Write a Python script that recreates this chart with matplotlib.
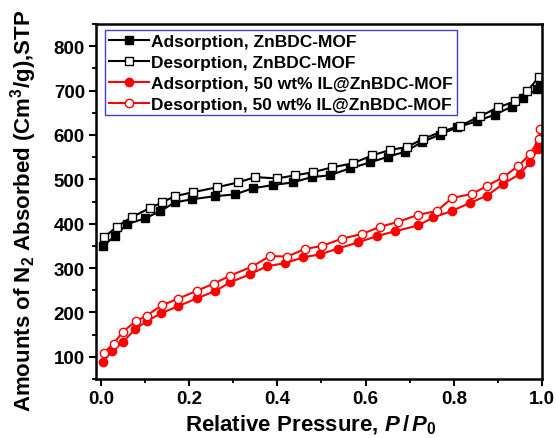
import numpy as np
import matplotlib
matplotlib.use('Agg')
import matplotlib.pyplot as plt
from matplotlib.ticker import MultipleLocator

plt.rcParams['font.family'] = 'Liberation Sans'
plt.rcParams['font.weight'] = 'bold'
plt.rcParams['mathtext.fontset'] = 'custom'
plt.rcParams['mathtext.rm'] = 'Liberation Sans:bold'
plt.rcParams['mathtext.it'] = 'Liberation Sans:italic:bold'
plt.rcParams['mathtext.bf'] = 'Liberation Sans:bold'

# ZnBDC-MOF
mof_ads_p = [0.005, 0.032, 0.059, 0.10, 0.134, 0.168, 0.206, 0.259, 0.304, 0.345,
             0.39, 0.435, 0.478, 0.519, 0.565, 0.61, 0.651, 0.689, 0.728, 0.769,
             0.807, 0.853, 0.893, 0.932, 0.957, 0.989, 0.995]
mof_ads_v = [350, 372, 399, 412, 428, 448, 455, 462, 466, 480,
             487, 493, 505, 509, 525, 538, 551, 562, 584, 601,
             617, 631, 646, 664, 684, 703, 710]
mof_des_p = [0.008, 0.036, 0.07, 0.111, 0.138, 0.168, 0.209, 0.263, 0.311, 0.35,
             0.399, 0.44, 0.481, 0.524, 0.571, 0.615, 0.655, 0.694, 0.73, 0.773,
             0.813, 0.859, 0.9, 0.939, 0.966, 0.992]
mof_des_v = [370, 393, 415, 435, 448, 462, 471, 482, 493, 505,
             502, 509, 516, 527, 536, 554, 566, 573, 591, 608,
             620, 642, 662, 676, 698, 730]

# 50 wt% IL@ZnBDC-MOF
il_ads_p = [0.005, 0.025, 0.05, 0.077, 0.104, 0.136, 0.175, 0.218, 0.259, 0.293,
            0.338, 0.376, 0.417, 0.458, 0.497, 0.537, 0.583, 0.626, 0.667, 0.719,
            0.753, 0.796, 0.837, 0.875, 0.912, 0.95, 0.973, 0.99, 0.993, 0.995]
il_ads_v = [89, 113, 133, 162, 180, 198, 214, 232, 248, 268,
            286, 304, 311, 324, 331, 344, 358, 372, 383, 396,
            414, 429, 447, 463, 490, 512, 539, 568, 579, 591]
il_des_p = [0.007, 0.029, 0.05, 0.079, 0.104, 0.138, 0.175, 0.218, 0.256, 0.293,
            0.342, 0.383, 0.422, 0.463, 0.501, 0.546, 0.592, 0.633, 0.673, 0.719,
            0.762, 0.796, 0.841, 0.875, 0.912, 0.946, 0.973, 0.993, 0.995]
il_des_v = [109, 130, 157, 180, 193, 216, 231, 249, 265, 283,
            303, 327, 326, 343, 350, 366, 377, 393, 404, 420,
            429, 458, 467, 485, 505, 530, 557, 591, 613]

fig = plt.figure(figsize=(5.56, 4.39), dpi=100)
ax = fig.add_axes([0.1727, 0.1344, 0.8023, 0.8086])

ms = 5.5
ax.plot(mof_ads_p, mof_ads_v, 'k-', marker='s', ms=ms, lw=1.5,
        label='Adsorption, ZnBDC-MOF')
ax.plot(mof_des_p, mof_des_v, 'k-', marker='s', ms=ms, lw=1.5, mfc='white',
        label='Desorption, ZnBDC-MOF')
ax.plot(il_ads_p, il_ads_v, '-', color='red', marker='o', ms=ms + 0.5, lw=1.5,
        label='Adsorption, 50 wt% IL@ZnBDC-MOF')
ax.plot(il_des_p, il_des_v, '-', color='red', marker='o', ms=ms + 0.5, lw=1.5,
        mfc='white', label='Desorption, 50 wt% IL@ZnBDC-MOF')

ax.set_xlim(-0.011, 1.0)
ax.set_ylim(50, 850)
ax.xaxis.set_major_locator(MultipleLocator(0.2))
ax.xaxis.set_minor_locator(MultipleLocator(0.1))
ax.yaxis.set_minor_locator(MultipleLocator(50))
ax.set_yticks(range(100, 801, 100))
ax.xaxis.set_major_formatter(plt.FormatStrFormatter('%.1f'))

for s in ax.spines.values():
    s.set_linewidth(1.8)
ax.tick_params(which='major', direction='out', length=5, width=1.5, labelsize=13.5,
               top=False, right=False, pad=3)
ax.tick_params(which='minor', direction='out', length=3, width=1.3,
               top=False, right=False)

ax.set_xlabel(r'Relative Pressure, $P\,/\,P_0$', fontsize=16, fontweight='bold')
ax.set_ylabel(r'Amounts of N$_2$ Absorbed (Cm$^3$/g),STP', fontsize=16,
              fontweight='bold')
ax.xaxis.set_label_coords(0.482, -0.096)
ax.yaxis.set_label_coords(-0.127, 0.475)

leg = ax.legend(loc='upper left', bbox_to_anchor=(0.02, 0.983), borderaxespad=0,
                fontsize=12.5, handlelength=2.3, handletextpad=0.15, borderpad=0.22,
                labelspacing=0.33, fancybox=False, framealpha=1)
leg.get_frame().set_edgecolor('#4040cc')
leg.get_frame().set_linewidth(1.0)

fig.savefig('out.png', dpi=100)
